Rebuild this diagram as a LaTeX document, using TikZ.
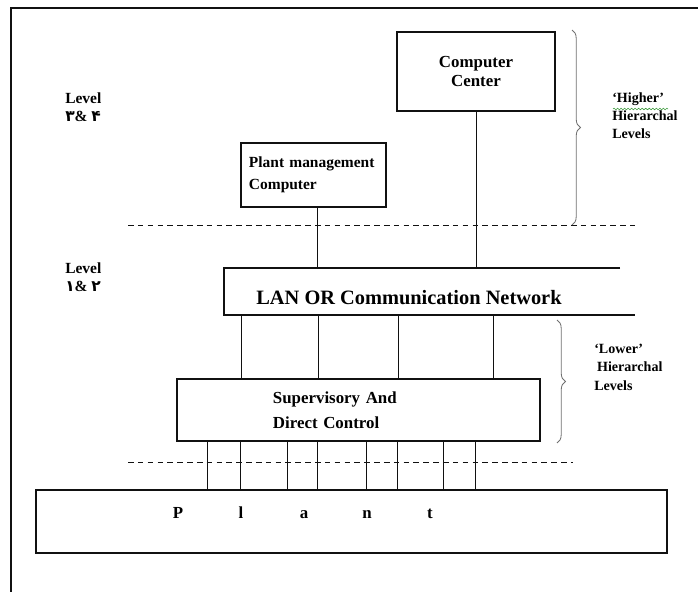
\documentclass[tikz,border=0pt]{standalone}
\usepackage{fontspec}
\setmainfont{Liberation Serif}
\newfontfamily\arabicfont[Script=Arabic]{DejaVu Sans}
\usetikzlibrary{positioning,decorations.pathreplacing,decorations.pathmorphing}
\definecolor{ink}{HTML}{111111}
\definecolor{bracegray}{HTML}{707070}
\definecolor{spellgreen}{HTML}{3C9A3C}
\tikzset{
  unitbox/.style={draw=ink,line width=0.9pt,fill=white,inner sep=0pt,
                  font=\bfseries\fontsize{12}{14}\selectfont},
  unitline/.style={draw=ink,line width=0.9pt},
  wire/.style={draw=ink,line width=0.7pt},
  levelcut/.style={draw=ink,line width=0.7pt,dash pattern=on 4pt off 3pt},
  lvltext/.style={align=left,inner sep=0pt,anchor=north west,
                  font=\bfseries\fontsize{11}{13}\selectfont},
  tierbrace/.style={decorate,decoration={brace,amplitude=6pt},
                    line width=0.6pt,draw=bracegray},
  tiertext/.style={align=left,inner sep=0pt,anchor=north west,
                   font=\bfseries\fontsize{10}{13}\selectfont}
}

\begin{document}
\begin{tikzpicture}[x=0.025cm,y=-0.025cm]
    \path[use as bounding box] (0,0) rectangle (698,592);
    \draw[ink,line width=1.4pt] (11,592) -- (11,8) -- (698,8);

    % computers of the upper levels
    \node[unitbox,align=center,minimum width=3.95cm,minimum height=1.975cm] (cc) at (476,71.5)
      {Computer\\Center};
    \node[unitbox,align=left,font=\bfseries\fontsize{11}{16}\selectfont,
          text width=3.225cm,inner xsep=0.2cm,minimum height=1.6cm] (pm) at (313.5,175)
      {Plant management\\Computer};

    % network
    \coordinate (lanTL) at (224,268);
    \coordinate (lanTR) at (620,268);
    \coordinate (lanBL) at (224,315);
    \coordinate (lanBR) at (635,315);
    \draw[unitline] (lanTR) -- (lanTL) -- (lanBL) -- (lanBR);
    \node[inner sep=0pt,font=\bfseries\fontsize{14.5}{16}\selectfont] (lan) at (409,298)
      {LAN OR Communication Network};

    % control and plant
    \node[unitbox,align=left,font=\bfseries\fontsize{12}{18}\selectfont,
          text width=4.275cm,inner xsep=2.4cm,minimum height=1.55cm] (sup) at (358.5,410)
      {Supervisory And\\Direct Control};
    \node[unitbox,minimum width=15.775cm,minimum height=1.575cm] (plant) at (351.5,521.5) {};
    \node[inner sep=0pt,font=\bfseries\fontsize{12}{14}\selectfont] (plantword) at (304,513)
      {\makebox[1.575cm]{P}\makebox[1.575cm]{l}\makebox[1.575cm]{a}\makebox[1.575cm]{n}\makebox[1.575cm]{t}};

    \draw[wire] ([xshift=0.11cm]pm.south) -- ([xshift=0.11cm]pm.south |- lanTL);
    \draw[wire] (cc.south) -- (cc.south |- lanTL);
    \foreach \x [count=\i] in {241,318,398,493} {
      \path (lanBL) ++(\x-224,0) coordinate (up\i);
      \draw[wire] (up\i) -- (up\i |- sup.north);
    }
    \foreach \x [count=\i] in {208,241,288,318,367,398,444,476} {
      \path (sup.south west) ++(\x-177,0) coordinate (dn\i);
      \draw[wire] (dn\i) -- (dn\i |- plant.north);
    }

    % level borders
    \draw[levelcut] (128,225) -- (635,225);
    \draw[levelcut] (128,462) -- (573,462);

    \node[lvltext] (lvlhi) at (65,92)
      {Level\\{\arabicfont ۳}\& {\arabicfont ۴}};
    \node[lvltext] (lvllo) at (65,262)
      {Level\\{\arabicfont ۱}\& {\arabicfont ۲}};

    \draw[tierbrace] (572,30) -- (572,225);
    \draw[tierbrace] (557,320) -- (557,443);
    \node[tiertext] (hightxt) at (612,92) {‘Higher’\\Hierarchal\\Levels};
    \draw[spellgreen,line width=0.4pt,decorate,
          decoration={snake,amplitude=0.6pt,segment length=2.5pt}]
      (613,109) -- (668,109);
    \node[tiertext] (lowtxt) at (594,344) {‘Lower’\\\hspace{2pt}Hierarchal\\Levels};
\end{tikzpicture}
\end{document}
